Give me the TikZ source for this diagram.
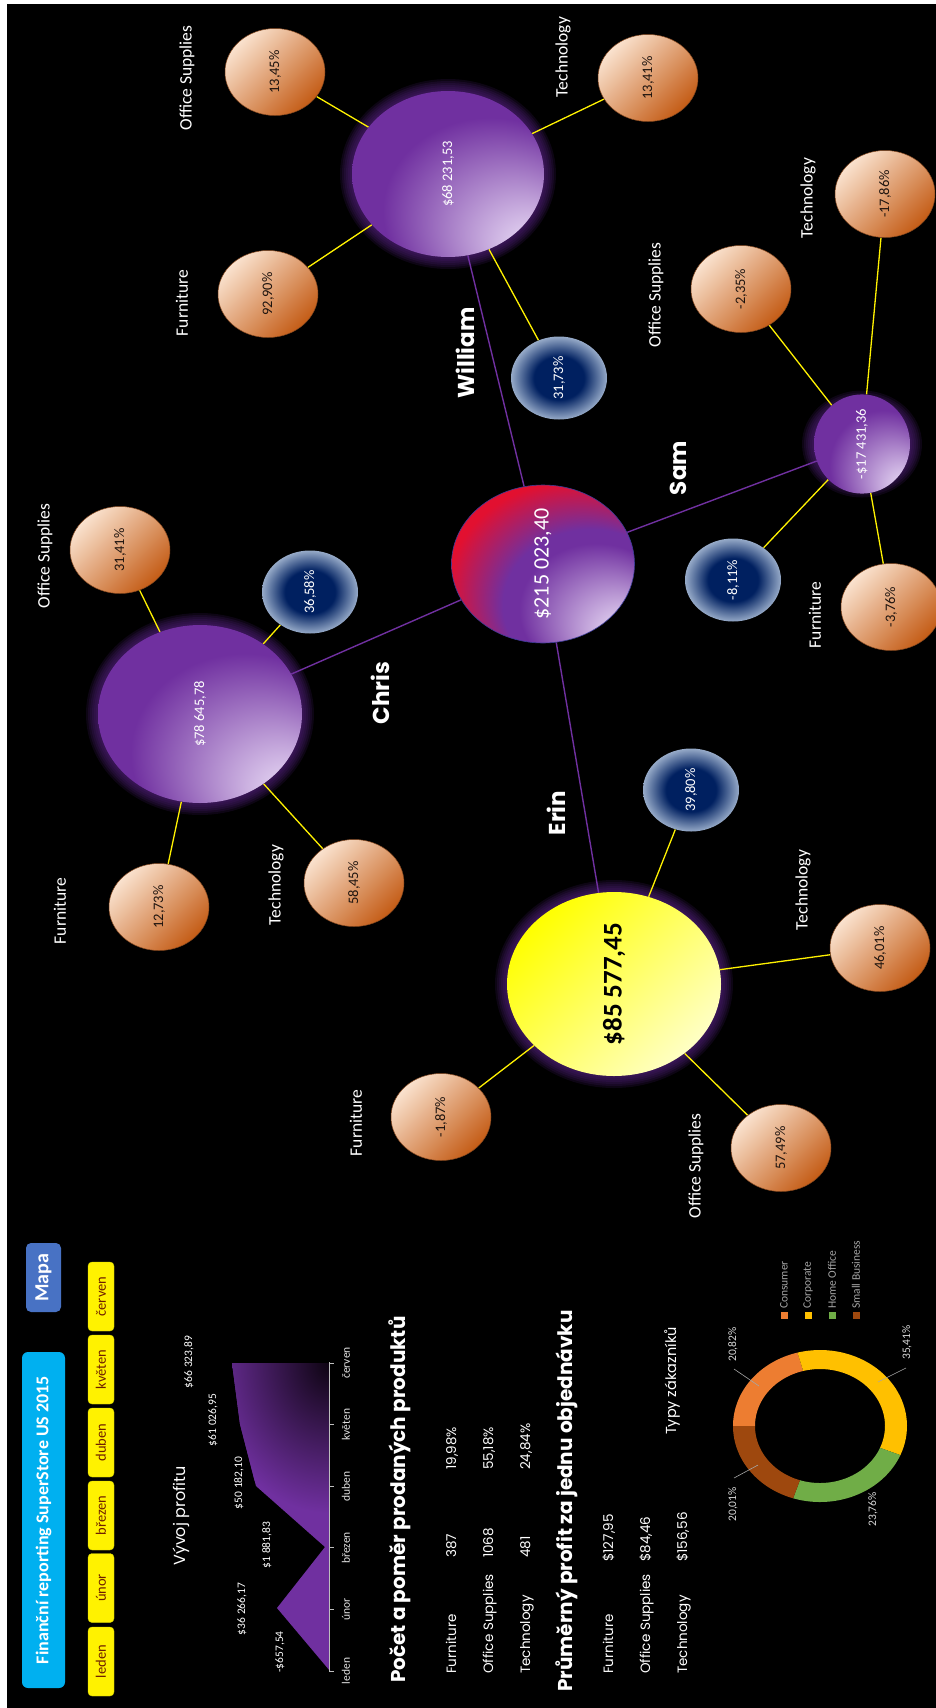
\documentclass[tikz,border=0pt]{standalone}
\usepackage{fontspec}
\usepackage{graphicx}
\setmainfont{Carlito}
\newfontfamily\gothic{Poppins}
\usetikzlibrary{shapes.geometric}
\newcommand\fsz[1]{\fontsize{#1}{#1}\selectfont}
\definecolor{purpleM}{RGB}{112,48,160}
\definecolor{lavL}{RGB}{228,212,242}
\definecolor{redC}{RGB}{226,16,48}
\definecolor{oraL}{RGB}{250,226,206}
\definecolor{oraD}{RGB}{196,92,22}
\definecolor{oraLine}{RGB}{130,70,30}
\definecolor{navyB}{RGB}{0,32,96}
\definecolor{edgeB}{RGB}{150,170,200}
\definecolor{yelL}{RGB}{255,255,196}
\definecolor{cyanT}{RGB}{0,176,240}
\definecolor{mapaB}{RGB}{72,114,196}
\definecolor{glowC}{RGB}{90,36,135}
\definecolor{chartDark}{RGB}{14,4,18}
\definecolor{btnTxt}{RGB}{110,30,0}
\definecolor{consC}{RGB}{237,125,49}
\definecolor{corpC}{RGB}{255,192,0}
\definecolor{homeC}{RGB}{112,173,71}
\definecolor{smallC}{RGB}{158,72,14}
\definecolor{legTxt}{RGB}{166,166,166}
\definecolor{ctrLine}{RGB}{60,60,150}
\pgfdeclareradialshading{mgrsh}{\pgfpoint{25bp}{-25bp}}{color(0bp)=(lavL); color(4bp)=(lavL); color(28bp)=(purpleM); color(50bp)=(purpleM)}
\pgfdeclareradialshading{ctrsh}{\pgfpoint{25bp}{-25bp}}{color(0bp)=(lavL); color(4bp)=(lavL); color(21bp)=(purpleM); color(24bp)=(purpleM); color(34bp)=(redC); color(50bp)=(redC)}
\pgfdeclareradialshading{bluesh}{\pgfpointorigin}{color(0bp)=(navyB); color(13bp)=(navyB); color(25bp)=(edgeB); color(50bp)=(edgeB)}
\pgfdeclarelayer{bg}
\pgfdeclarelayer{glowl}
\pgfdeclarelayer{lines}
\pgfsetlayers{bg,glowl,lines,main}
\newcommand\bubglow[3]{\begin{pgfonlayer}{glowl}\foreach \k in {1,...,6}{\fill[glowC, opacity=0.15] (#1.center) ellipse [x radius={#2+\k*2}, y radius={#3+\k*2}];}\end{pgfonlayer}}
\newcommand\dseg[3]{\fill[#1] plot[domain=#2:#3, samples=40, variable=\t] ({820+87*cos(\t)},{1426-76*sin(\t)}) -- plot[domain=#3:#2, samples=40, variable=\t] ({820+65*cos(\t)},{1426-57*sin(\t)}) -- cycle;}
\tikzset{
 orab/.style={ellipse, inner sep=0pt, minimum width=100pt, minimum height=87pt, shade, top color=oraL, bottom color=oraD, shading angle=45, draw=oraLine, line width=0.5pt, font=\fsz{14.5}, text={rgb,255:red,30;green,20;blue,15}},
 blueb/.style={ellipse, inner sep=0pt, minimum width=96pt, minimum height=83pt, shade, shading=bluesh, font=\fsz{14.5}, text=white},
 mgrb/.style 2 args={ellipse, inner sep=0pt, minimum width=#1, minimum height=#2, shade, shading=mgrsh, font=\fsz{14.5}, text=white},
 lab/.style={rotate=90, inner sep=0pt, text=white, font=\fsz{17.5}},
 nm/.style={rotate=90, inner sep=0pt, text=white, font=\gothic\bfseries\fsz{23}},
 mline/.style={draw=purpleM, line width=1.4pt},
 yline/.style={draw=yellow, line width=1.3pt},
 tb/.style={rotate=90, anchor=base west, inner sep=0pt, text=white, font=\gothic\fsz{13.5}},
 hd/.style={rotate=90, anchor=base west, inner sep=0pt, text=white, font=\gothic\bfseries\fsz{20}},
 mbtn/.style={rectangle, rounded corners=4pt, fill=yellow, draw={rgb,255:red,210;green,210;blue,0}, line width=0.4pt, minimum width=26pt, minimum height=69pt, inner sep=0pt, text=btnTxt, font=\fsz{14.5}},
 cval/.style={rotate=90, inner sep=0pt, text=white, font=\fsz{11.5}},
 mlab/.style={rotate=90, inner sep=0pt, text={rgb,255:red,230;green,230;blue,230}, font=\fsz{11.5}},
 dlab/.style={rotate=90, inner sep=0pt, text={rgb,255:red,217;green,217;blue,217}, font=\fsz{11.5}},
 leg/.style={rotate=90, anchor=west, inner sep=0pt, text=legTxt, font=\fsz{11.5}},
 legsq/.style={rectangle, inner sep=0pt, minimum size=7pt},
 lead/.style={draw={rgb,255:red,166;green,166;blue,166}, line width=0.6pt}
}
\begin{document}
\begin{tikzpicture}[x=1pt, y=-1pt]
\useasboundingbox (0,0) rectangle (936,1708);
\begin{pgfonlayer}{bg}
\fill[white] (0,0) rectangle (936,1708);
\fill[black] (7,4) rectangle (936,1708);
\end{pgfonlayer}

% ---------- bubble map ----------
\node[ellipse, inner sep=0pt, minimum width=183pt, minimum height=158pt, shade, shading=ctrsh, draw=ctrLine, line width=0.6pt, text=white, font=\fsz{22}] (ctr) at (543,564) {\rotatebox{90}{\$215 023,40}};
\node[ellipse, inner sep=0pt, minimum width=214pt, minimum height=184pt, shade, top color=yellow, bottom color=yelL, shading angle=45, text=black, font=\bfseries\fsz{27}] (erin) at (614,984) {\rotatebox{90}{\$85 577,45}};
\node[mgrb={204pt}{178pt}] (chris) at (200,714) {\rotatebox{90}{\$78 645,78}};
\node[mgrb={192pt}{166pt}] (william) at (448,174) {\rotatebox{90}{\$68 231,53}};
\node[mgrb={96pt}{83pt}] (sam) at (862,444) {\rotatebox{90}{-\$17 431,36}};
\bubglow{erin}{107}{92}
\bubglow{chris}{102}{89}
\bubglow{william}{96}{83}
\bubglow{sam}{48}{41.5}

% William
\node[orab] (w1) at (275,72) {\rotatebox{90}{13,45\%}};
\node[orab] (w2) at (648,78) {\rotatebox{90}{13,41\%}};
\node[orab] (w3) at (268,294) {\rotatebox{90}{92,90\%}};
\node[blueb] (w4) at (559,378) {\rotatebox{90}{31,73\%}};
% Chris
\node[orab] (c1) at (120,550) {\rotatebox{90}{31,41\%}};
\node[blueb] (c2) at (310,592) {\rotatebox{90}{36,58\%}};
\node[orab] (c3) at (159,907) {\rotatebox{90}{12,73\%}};
\node[orab] (c4) at (354,883) {\rotatebox{90}{58,45\%}};
% Erin
\node[orab] (e1) at (441,1117) {\rotatebox{90}{-1,87\%}};
\node[orab] (e2) at (781,1148) {\rotatebox{90}{57,49\%}};
\node[orab] (e3) at (880,948) {\rotatebox{90}{46,01\%}};
\node[blueb] (e4) at (691,790) {\rotatebox{90}{39,80\%}};
% Sam
\node[orab] (s1) at (741,289) {\rotatebox{90}{-2,35\%}};
\node[orab] (s2) at (885,194) {\rotatebox{90}{-17,86\%}};
\node[blueb] (s3) at (733,580) {\rotatebox{90}{-8,11\%}};
\node[orab] (s4) at (891,607) {\rotatebox{90}{-3,76\%}};

\begin{pgfonlayer}{lines}
\draw[mline] (ctr) -- (william);
\draw[mline] (ctr) -- (chris);
\draw[mline] (ctr) -- (sam);
\draw[mline] (ctr) -- (erin);
\foreach \s in {w1,w2,w3,w4} \draw[yline] (william) -- (\s);
\foreach \s in {c1,c2,c3,c4} \draw[yline] (chris) -- (\s);
\foreach \s in {e1,e2,e3,e4} \draw[yline] (erin) -- (\s);
\foreach \s in {s1,s2,s3,s4} \draw[yline] (sam) -- (\s);
\end{pgfonlayer}

% category labels
\node[lab] (lw1) at (187,78) {Office Supplies};
\node[lab] (lw2) at (563,57) {Technology};
\node[lab] (lw3) at (182,303) {Furniture};
\node[lab] (lc1) at (45,556) {Office Supplies};
\node[lab] (lc3) at (60,911) {Furniture};
\node[lab] (lc4) at (276,885) {Technology};
\node[lab] (le1) at (356,1123) {Furniture};
\node[lab] (le2) at (696,1166) {Office Supplies};
\node[lab] (le3) at (803,890) {Technology};
\node[lab] (ls1) at (656,295) {Office Supplies};
\node[lab] (ls2) at (808,198) {Technology};
\node[lab] (ls4) at (815,615) {Furniture};
% names
\node[nm] (nW) at (465,353) {William};
\node[nm] (nC) at (380,693) {Chris};
\node[nm] (nS) at (678,468) {Sam};
\node[nm] (nE) at (556,813) {Erin};

% ---------- left panel ----------
\node[rectangle, rounded corners=6pt, fill=cyanT, minimum width=43pt, minimum height=336pt, inner sep=0pt, text=white, font=\bfseries\fsz{18}] (title) at (43.5,1520) {\rotatebox{90}{Finanční reporting SuperStore US 2015}};
\node[rectangle, rounded corners=5pt, fill=mapaB, minimum width=35pt, minimum height=69pt, inner sep=0pt, text=white, font=\bfseries\fsz{20}] (mapa) at (43.5,1277.5) {\rotatebox{90}{Mapa}};
\node[mbtn] (b1) at (101,1661.5) {\rotatebox{90}{leden}};
\node[mbtn] (b2) at (101,1588) {\rotatebox{90}{únor}};
\node[mbtn] (b3) at (101,1515.5) {\rotatebox{90}{březen}};
\node[mbtn] (b4) at (101,1442.5) {\rotatebox{90}{duben}};
\node[mbtn] (b5) at (101,1369.5) {\rotatebox{90}{květen}};
\node[mbtn] (b6) at (101,1296.5) {\rotatebox{90}{červen}};

% profit chart
\node[rotate=90, inner sep=0pt, text=white, font=\gothic\fsz{16}] (vt) at (181,1516) {Vývoj profitu};
\begin{scope}
\clip (330,1671) -- (277,1608) -- (325,1547) -- (256,1486) -- (240,1424) -- (232,1363) -- (329,1363) -- cycle;
\fill[purpleM] (220,1355) rectangle (335,1675);
\shade[inner color=chartDark, outer color=purpleM] (329,1363) ellipse [x radius=120, y radius=150];
\end{scope}
\draw[draw={rgb,255:red,190;green,190;blue,190}, line width=0.8pt] (329,1362) -- (329,1672);
\foreach \yy in {1363,1424.6,1486.2,1547.8,1609.4,1671} \draw[draw={rgb,255:red,190;green,190;blue,190}, line width=0.8pt] (329,\yy) -- (334,\yy);
\node[mlab] (m1) at (346,1671) {leden};
\node[mlab] (m2) at (346,1609.4) {únor};
\node[mlab] (m3) at (346,1547.8) {březen};
\node[mlab] (m4) at (346,1486.2) {duben};
\node[mlab] (m5) at (346,1424.6) {květen};
\node[mlab] (m6) at (346,1363) {červen};
\node[cval] (v1) at (280,1652) {-\$657,54};
\node[cval] (v2) at (242,1609) {\$36 266,17};
\node[cval] (v3) at (267,1545) {\$1 881,83};
\node[cval] (v4) at (239,1483) {\$50 182,10};
\node[cval] (v5) at (213,1420) {\$61 026,95};
\node[cval] (v6) at (189,1362) {\$66 323,89};

% table 1
\node[hd] (h1) at (405,1683) {Počet a poměr prodaných produktů};
\node[tb] (t11) at (456,1674) {Furniture};
\node[tb] (t12) at (456,1558) {387};
\node[tb] (t13) at (456,1470) {19,98\%};
\node[tb] (t21) at (493,1674) {Office Supplies};
\node[tb] (t22) at (493,1558) {1068};
\node[tb] (t23) at (493,1470) {55,18\%};
\node[tb] (t31) at (530,1674) {Technology};
\node[tb] (t32) at (530,1558) {481};
\node[tb] (t33) at (530,1470) {24,84\%};
% table 2
\node[hd] (h2) at (572,1692) {Průměrný profit za jednu objednávku};
\node[tb] (p11) at (613,1674) {Furniture};
\node[tb] (p12) at (613,1562) {\$127,95};
\node[tb] (p21) at (650,1674) {Office Supplies};
\node[tb] (p22) at (650,1562) {\$84,46};
\node[tb] (p31) at (687,1674) {Technology};
\node[tb] (p32) at (687,1562) {\$156,56};

% donut
\node[rotate=90, inner sep=0pt, text=white, font=\gothic\fsz{14.5}] (dt) at (672,1381) {Typy zákazníků};
\dseg{consC}{105}{180}
\dseg{corpC}{-22.5}{105}
\dseg{homeC}{-108}{-22.5}
\dseg{smallC}{-180}{-108}
\coordinate (d1a) at (759,1386); \coordinate (d1b) at (734,1369);
\coordinate (d2a) at (878,1382); \coordinate (d2b) at (906,1368);
\coordinate (d4a) at (758,1465); \coordinate (d4b) at (734,1478);
\draw[lead] (d1a) -- (d1b);
\draw[lead] (d2a) -- (d2b);
\draw[lead] (d4a) -- (d4b);
\node[dlab, anchor=west] (dl1) at (733,1362) {20,82\%};
\node[dlab, anchor=west] (dl2) at (907,1360) {35,41\%};
\node[dlab, anchor=east] (dl3) at (873,1492) {23,76\%};
\node[dlab, anchor=east] (dl4) at (733,1487) {20,01\%};
% legend
\node[legsq, fill=consC] (q1) at (784,1315) {};
\node[legsq, fill=corpC] (q2) at (808,1315) {};
\node[legsq, fill=homeC] (q3) at (832,1315) {};
\node[legsq, fill=smallC] (q4) at (856,1315) {};
\node[leg] (g1) at (784,1309) {Consumer};
\node[leg] (g2) at (808,1309) {Corporate};
\node[leg] (g3) at (832,1309) {Home Office};
\node[leg] (g4) at (856,1309) {Small Business};
\end{tikzpicture}
\end{document}
